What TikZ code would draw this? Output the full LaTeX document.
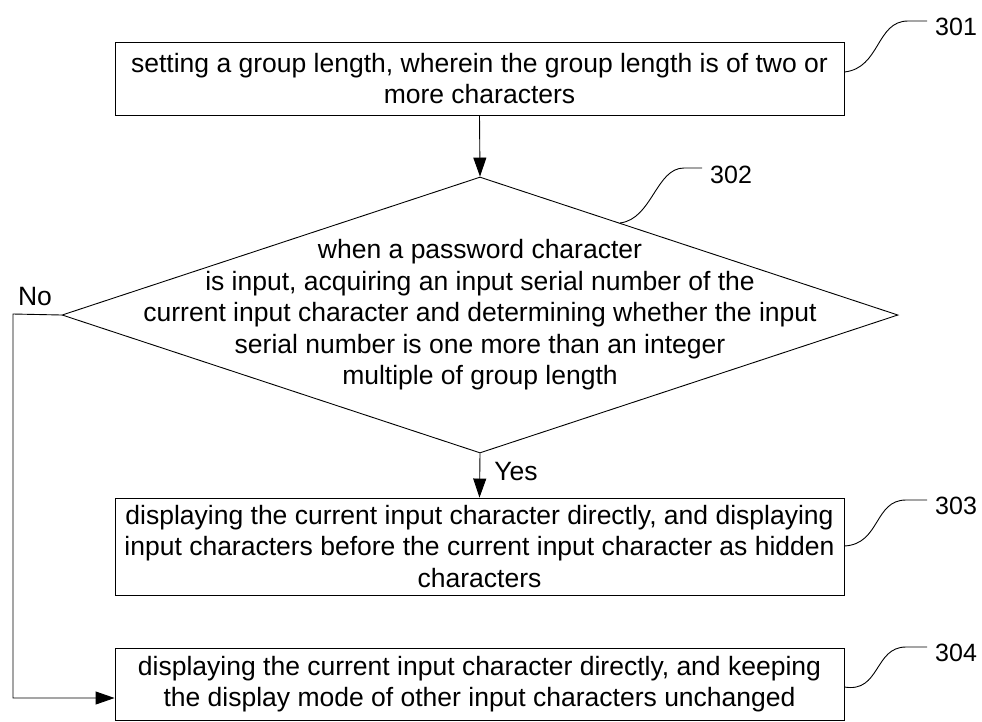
\documentclass[tikz,border=0pt]{standalone}
\usepackage{fontspec}
\setmainfont{Liberation Sans}
\usetikzlibrary{shapes.geometric,arrows.meta,calc}
\begin{document}
\begin{tikzpicture}[x=1pt,y=-1pt,
  every node/.style={font=\fontsize{26.5}{31.5}\selectfont},
  stepbox/.style={draw, line width=0.9pt, minimum width=729pt, inner sep=0pt, align=center},
  decision/.style={diamond, draw, line width=0.9pt, inner sep=0pt},
  link/.style={line width=0.9pt},
  arr/.style={link, -{Triangle[length=19pt,width=13pt]}},
  callout/.style={line width=0.9pt},
  refnum/.style={anchor=west, font=\fontsize{25}{30}\selectfont, inner sep=0pt},
  lbl/.style={inner sep=0pt}]
\useasboundingbox (0,0) rectangle (982,721);

\node[stepbox, minimum height=73pt] (b1) at (479.5,78.5)
  {setting a group length, wherein the group length is of two or\\more characters};
\node[decision, minimum width=836pt, minimum height=276pt] (d) at (480,315) {};
\node[lbl, align=center] (dt) at (480,315)
  {when a password character\\is input, acquiring an input serial number of the\\current input character and determining whether the input\\serial number is one more than an integer\\multiple of group length};
\node[stepbox, minimum height=97pt] (b3) at (479.5,546.5)
  {displaying the current input character directly, and displaying\\input characters before the current input character as hidden\\characters};
\node[stepbox, minimum height=72pt] (b4) at (479.5,684)
  {displaying the current input character directly, and keeping\\the display mode of other input characters unchanged};

\node[lbl] (no) at (35,297) {No};
\node[lbl] (yes) at (516,472) {Yes};

\draw[arr] (b1.south) -- (d.north);
\draw[arr] (d.south) -- (b3.north);
\coordinate (nc) at (13,314);
\draw[arr] (d.west) -- (nc) |- ([yshift=-14pt]b4.west);

% reference numerals
\node[refnum] (n301) at (935,27) {301};
\node[refnum] (n302) at (710,175) {302};
\node[refnum] (n303) at (935,506) {303};
\node[refnum] (n304) at (935,653) {304};

\coordinate (s302) at ($(d.north)!0.335!(d.east)$);
\draw[callout] ([yshift=6.5pt]b1.east) .. controls +(36,-4) and +(-32,0) .. (908,21) -- ([xshift=-8pt,yshift=6pt]n301.west);
\draw[callout] (s302) .. controls +(32,-4) and +(-28,0) .. (684,168) -- ([xshift=-8pt,yshift=7pt]n302.west);
\draw[callout] ([yshift=0.5pt]b3.east) .. controls +(36,-2) and +(-32,0) .. (906,500) -- ([xshift=-8pt,yshift=6pt]n303.west);
\draw[callout] ([yshift=-3pt]b4.east) .. controls +(36,6) and +(-32,0) .. (906,647) -- ([xshift=-8pt,yshift=6pt]n304.west);
\end{tikzpicture}
\end{document}
